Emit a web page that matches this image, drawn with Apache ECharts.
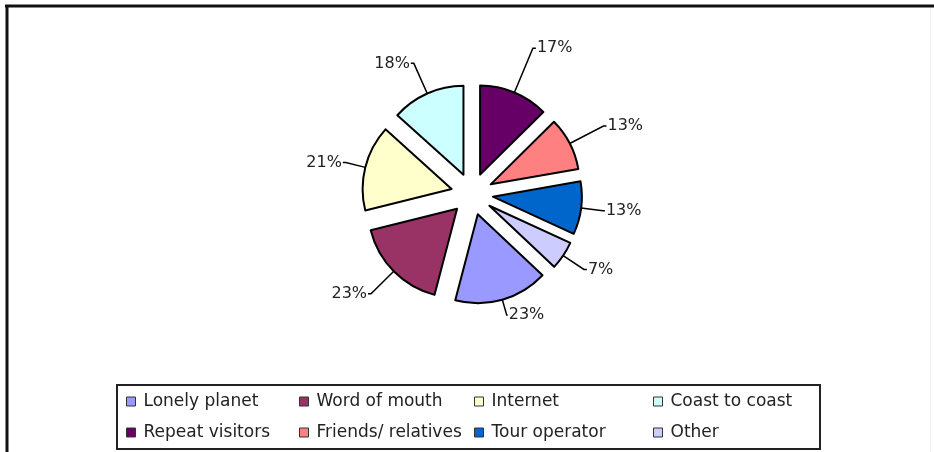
<!DOCTYPE html>
<html>
<head>
<meta charset="utf-8">
<script src="https://cdn.jsdelivr.net/npm/echarts@6/dist/echarts.min.js"></script>
<style>
html,body{margin:0;padding:0;background:#fff;}
#chart{width:934px;height:452px;}
</style>
</head>
<body>
<div id="chart"></div>
<script>
// Data (clockwise from 12 o'clock)
const categories = ['Repeat visitors', 'Friends/ relatives', 'Tour operator', 'Other', 'Lonely planet', 'Word of mouth', 'Internet', 'Coast to coast'];
const values = [17, 13, 13, 7, 23, 23, 21, 18];
// Legend columns (top row, bottom row)
const legendColumns = [
  ['Lonely planet', 'Repeat visitors'],
  ['Word of mouth', 'Friends/ relatives'],
  ['Internet', 'Tour operator'],
  ['Coast to coast', 'Other']
];

// ---- styling ----
const palette = ['#660066', '#FF8080', '#0066CC', '#CCCCFF', '#9999FF', '#993366', '#FFFFCC', '#CCFFFF'];
const legendLefts = [126, 299, 474, 653];
const leaderLengths = [48, 38, 22, 25, 16, 32, 20, 33];
const leaderLengths2 = [3, 3, 2, 3, 1, 3, 3, 3];

const FONT = 'DejaVu Sans';
const chart = echarts.init(document.getElementById('chart'), null, {renderer: 'canvas'});

const legends = legendColumns.map((col, i) => ({
  data: col,
  orient: 'vertical',
  left: legendLefts[i],
  top: 393,
  padding: 0,
  itemGap: 14,
  itemWidth: 9,
  itemHeight: 9,
  icon: 'rect',
  selectedMode: false,
  itemStyle: {borderColor: '#333', borderWidth: 1},
  textStyle: {fontFamily: FONT, fontSize: 17, color: '#222', lineHeight: 17, padding: [0, 0, 0, 3]}
}));

chart.setOption({
  animation: false,
  color: palette,
  legend: legends,
  graphic: [
    {type: 'line', shape: {x1: 5, y1: 6, x2: 934, y2: 6}, style: {stroke: '#111', lineWidth: 3}},
    {type: 'line', shape: {x1: 7, y1: 5, x2: 7, y2: 452}, style: {stroke: '#111', lineWidth: 3}},
    {type: 'line', shape: {x1: 930.5, y1: 8, x2: 930.5, y2: 452}, style: {stroke: '#eee', lineWidth: 1}},
    {type: 'rect', shape: {x: 117, y: 385, width: 703, height: 64}, style: {fill: 'none', stroke: '#222', lineWidth: 2}, z: 10}
  ],
  series: [{
    type: 'pie',
    center: [472, 194],
    radius: 89,
    startAngle: 90,
    clockwise: true,
    selectedMode: 'multiple',
    selectedOffset: 21,
    avoidLabelOverlap: false,
    itemStyle: {borderColor: '#000', borderWidth: 2},
    select: {itemStyle: {borderColor: '#000', borderWidth: 2}},
    emphasis: {disabled: true},
    label: {
      show: true,
      position: 'outside',
      formatter: p => p.value + '%',
      fontFamily: FONT,
      fontSize: 16,
      color: '#222',
      distanceToLabelLine: 1
    },
    labelLine: {
      show: true,
      length: 22,
      length2: 3,
      lineStyle: {color: '#000', width: 1.5}
    },
    data: categories.map((name, i) => ({
      name: name,
      value: values[i],
      selected: true,
      labelLine: {length: leaderLengths[i], length2: leaderLengths2[i]}
    }))
  }]
});
</script>
</body>
</html>
